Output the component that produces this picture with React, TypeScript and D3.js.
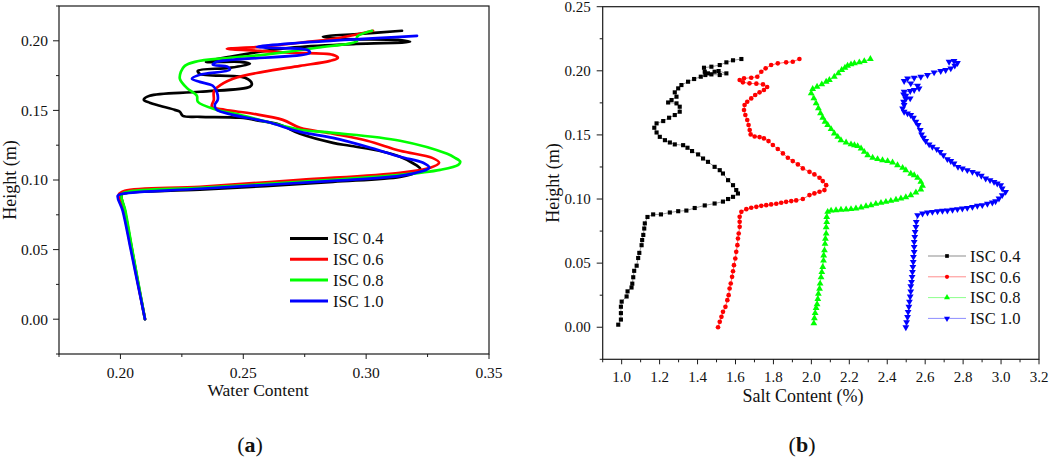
import React from 'react'
import * as d3 from 'd3'

type Pt = [number, number]

const SERIES_NAMES = ['ISC 0.4', 'ISC 0.6', 'ISC 0.8', 'ISC 1.0']
const SERIES_COLORS = ['#000000', '#ff0000', '#00ff00', '#0000ff']

// (a) water content (x) vs height (y)
const WATER_04: Pt[] = [
  [0.210, 0.000], [0.2073, 0.025], [0.2047, 0.050], [0.2018, 0.078], [0.2005, 0.0894], [0.2026, 0.0908], [0.2323, 0.0930], [0.2865, 0.0987],
  [0.3138, 0.1023], [0.3199, 0.1052], [0.3220, 0.1080], [0.3187, 0.1124], [0.3138, 0.1167],
  [0.3069, 0.1203], [0.2934, 0.1246], [0.2865, 0.1267], [0.2731, 0.1332], [0.2649, 0.1397],
  [0.2568, 0.1425], [0.2486, 0.1447], [0.2323, 0.1454], [0.2254, 0.1461], [0.2242, 0.1490],
  [0.2221, 0.1504], [0.2160, 0.1533], [0.2119, 0.1555], [0.2095, 0.1576], [0.2119, 0.1605],
  [0.2323, 0.1634], [0.2527, 0.1670], [0.2535, 0.1691], [0.2507, 0.1734], [0.2323, 0.1763],
  [0.2315, 0.1784], [0.2445, 0.1806], [0.2527, 0.1835], [0.2486, 0.1849], [0.2348, 0.1849],
  [0.2445, 0.1885], [0.2690, 0.1950], [0.2959, 0.1978], [0.3179, 0.1993], [0.3130, 0.2007],
  [0.2894, 0.2014], [0.2824, 0.2029], [0.2975, 0.2050], [0.3146, 0.2072],
]
const WATER_06: Pt[] = [
  [0.210, 0.000], [0.2072, 0.025], [0.2044, 0.050], [0.2012, 0.078], [0.1993, 0.0894], [0.2018, 0.0922], [0.2323, 0.0951], [0.2731, 0.1001],
  [0.3138, 0.1052], [0.3261, 0.1088], [0.3297, 0.1124], [0.3269, 0.1159], [0.3138, 0.1210],
  [0.3004, 0.1282], [0.2865, 0.1332], [0.2731, 0.1375], [0.2661, 0.1432], [0.2539, 0.1476],
  [0.2425, 0.1504], [0.2372, 0.1526], [0.2380, 0.1576], [0.2380, 0.1634], [0.2392, 0.1662],
  [0.2458, 0.1727], [0.2580, 0.1777], [0.2731, 0.1820], [0.2853, 0.1856], [0.2885, 0.1878],
  [0.2865, 0.1899], [0.2690, 0.1914], [0.2568, 0.1928], [0.2433, 0.1943], [0.2568, 0.1957],
  [0.2731, 0.1986], [0.2894, 0.2022], [0.3028, 0.2072],
]
const WATER_08: Pt[] = [
  [0.210, 0.000], [0.2074, 0.025], [0.2048, 0.050], [0.2020, 0.078], [0.2005, 0.0894], [0.2030, 0.0915], [0.2323, 0.0944], [0.2731, 0.0987],
  [0.3138, 0.1037], [0.3301, 0.1073], [0.3375, 0.1109], [0.3383, 0.1131], [0.3362, 0.1159],
  [0.3330, 0.1188], [0.3138, 0.1282], [0.2865, 0.1339], [0.2731, 0.1361], [0.2596, 0.1418],
  [0.2486, 0.1468], [0.2392, 0.1504], [0.2315, 0.1562], [0.2311, 0.1605], [0.2270, 0.1662],
  [0.2242, 0.1727], [0.2246, 0.1777], [0.2262, 0.1820], [0.2303, 0.1849], [0.2445, 0.1878],
  [0.2580, 0.1899], [0.2800, 0.1950], [0.2963, 0.2000], [0.2963, 0.2029], [0.3024, 0.2072],
]
const WATER_10: Pt[] = [
  [0.210, 0.000], [0.2071, 0.025], [0.2042, 0.050], [0.2009, 0.078], [0.1989, 0.0887], [0.2009, 0.0901], [0.2323, 0.0937], [0.2865, 0.0994],
  [0.3138, 0.1030], [0.3220, 0.1059], [0.3257, 0.1088], [0.3232, 0.1124], [0.3138, 0.1167],
  [0.3004, 0.1239], [0.2865, 0.1303], [0.2731, 0.1346], [0.2596, 0.1418], [0.2458, 0.1468],
  [0.2392, 0.1504], [0.2384, 0.1540], [0.2396, 0.1576], [0.2392, 0.1634], [0.2376, 0.1677],
  [0.2323, 0.1705], [0.2291, 0.1727], [0.2323, 0.1756], [0.2445, 0.1792], [0.2437, 0.1813],
  [0.2376, 0.1828], [0.2392, 0.1849], [0.2458, 0.1864], [0.2771, 0.1914], [0.2759, 0.1935],
  [0.2596, 0.1950], [0.2555, 0.1957], [0.2731, 0.1986], [0.3207, 0.2036],
]

// (b) salt content (%) (x) vs height (y)
const SALT_04: Pt[] = [
  [0.982, 0.002], [0.996, 0.006], [0.996, 0.011], [0.996, 0.016], [1.000, 0.020], [1.026, 0.024],
  [1.031, 0.028], [1.052, 0.031], [1.056, 0.034], [1.061, 0.039], [1.066, 0.044], [1.079, 0.048],
  [1.087, 0.054], [1.093, 0.058], [1.105, 0.064], [1.108, 0.068], [1.114, 0.072], [1.119, 0.077],
  [1.122, 0.081], [1.136, 0.086], [1.166, 0.088], [1.207, 0.088], [1.254, 0.0895], [1.298, 0.0905],
  [1.341, 0.091], [1.385, 0.093], [1.438, 0.095], [1.490, 0.0965], [1.534, 0.098], [1.561, 0.100],
  [1.587, 0.1017], [1.613, 0.1043], [1.604, 0.107], [1.587, 0.1108], [1.561, 0.1147], [1.534, 0.1199],
  [1.517, 0.1225], [1.490, 0.1251], [1.455, 0.129], [1.429, 0.1316], [1.403, 0.1348], [1.371, 0.1374],
  [1.347, 0.140], [1.324, 0.142], [1.280, 0.1426], [1.254, 0.1441], [1.228, 0.1459], [1.201, 0.1485],
  [1.184, 0.1519], [1.172, 0.1556], [1.184, 0.159], [1.219, 0.1608], [1.250, 0.1634], [1.280, 0.1655],
  [1.306, 0.1681], [1.306, 0.172], [1.289, 0.1746], [1.245, 0.1753], [1.263, 0.1772], [1.289, 0.1798],
  [1.280, 0.1832], [1.298, 0.1863], [1.315, 0.1889], [1.350, 0.1915], [1.382, 0.1936], [1.417, 0.1954],
  [1.441, 0.1967], [1.455, 0.198], [1.490, 0.1993], [1.511, 0.1998], [1.552, 0.198], [1.517, 0.1967],
  [1.473, 0.1972], [1.438, 0.1993], [1.434, 0.2024], [1.473, 0.2032], [1.517, 0.2045], [1.552, 0.2066],
  [1.587, 0.2082], [1.631, 0.2092],
]
const SALT_06: Pt[] = [
  [1.508, 0.000], [1.517, 0.0042], [1.526, 0.0081], [1.534, 0.012], [1.547, 0.0159], [1.557, 0.0211],
  [1.564, 0.025], [1.569, 0.0302], [1.575, 0.0341], [1.582, 0.0393], [1.587, 0.0437], [1.592, 0.0484],
  [1.599, 0.0536], [1.604, 0.0588], [1.610, 0.064], [1.613, 0.0692], [1.617, 0.0731], [1.622, 0.0783],
  [1.622, 0.0822], [1.622, 0.0861], [1.631, 0.090], [1.657, 0.0921], [1.683, 0.0932], [1.710, 0.0939],
  [1.736, 0.0947], [1.762, 0.0952], [1.788, 0.0958], [1.815, 0.0963], [1.841, 0.0971], [1.867, 0.0978],
  [1.894, 0.0984], [1.920, 0.0989], [1.955, 0.100], [1.990, 0.1031], [2.016, 0.1044], [2.043, 0.1057],
  [2.069, 0.107], [2.078, 0.1108], [2.060, 0.114], [2.043, 0.1166], [2.016, 0.1192], [1.990, 0.1212],
  [1.955, 0.1239], [1.929, 0.127], [1.902, 0.1296], [1.876, 0.1322], [1.850, 0.1356], [1.823, 0.139],
  [1.797, 0.1421], [1.774, 0.1452], [1.750, 0.1473], [1.727, 0.1483], [1.701, 0.1488], [1.680, 0.1504],
  [1.675, 0.1538], [1.669, 0.1577], [1.662, 0.1616], [1.652, 0.1655], [1.645, 0.1694], [1.648, 0.1733],
  [1.662, 0.1759], [1.683, 0.1785], [1.704, 0.1811], [1.727, 0.1832], [1.750, 0.185], [1.767, 0.1874],
  [1.745, 0.1894], [1.710, 0.190], [1.674, 0.1902], [1.639, 0.191], [1.622, 0.1928], [1.645, 0.1941],
  [1.683, 0.1946], [1.715, 0.1954], [1.736, 0.1993], [1.759, 0.2019], [1.788, 0.2045], [1.823, 0.2058],
  [1.867, 0.2066], [1.902, 0.2071], [1.937, 0.2092],
]
const SALT_08: Pt[] = [
  [2.013, 0.003], [2.016, 0.007], [2.020, 0.011], [2.025, 0.015], [2.030, 0.018], [2.034, 0.022],
  [2.037, 0.026], [2.043, 0.030], [2.046, 0.034], [2.051, 0.039], [2.055, 0.043], [2.060, 0.047],
  [2.064, 0.052], [2.065, 0.056], [2.069, 0.060], [2.072, 0.065], [2.074, 0.069], [2.078, 0.073],
  [2.078, 0.078], [2.081, 0.082], [2.081, 0.086], [2.086, 0.090], [2.104, 0.091], [2.130, 0.0913],
  [2.156, 0.0916], [2.183, 0.0918], [2.209, 0.0921], [2.235, 0.0926], [2.262, 0.0934], [2.288, 0.0944],
  [2.314, 0.0952], [2.340, 0.0962], [2.367, 0.097], [2.393, 0.0978], [2.419, 0.0986], [2.446, 0.0994],
  [2.472, 0.1004], [2.498, 0.1014], [2.524, 0.103], [2.551, 0.1051], [2.577, 0.1074], [2.586, 0.1103],
  [2.577, 0.1134], [2.560, 0.1165], [2.542, 0.1186], [2.524, 0.1197], [2.498, 0.1225], [2.481, 0.1243],
  [2.454, 0.1264], [2.428, 0.1285], [2.402, 0.1296], [2.375, 0.1303], [2.349, 0.1311], [2.323, 0.1322],
  [2.297, 0.1342], [2.279, 0.1368], [2.262, 0.1394], [2.244, 0.1413], [2.227, 0.142], [2.209, 0.1426],
  [2.183, 0.1441], [2.156, 0.1459], [2.139, 0.1485], [2.121, 0.1511], [2.104, 0.1545], [2.086, 0.1577],
  [2.072, 0.1603], [2.060, 0.1634], [2.048, 0.1668], [2.037, 0.1707], [2.025, 0.1746], [2.013, 0.1785],
  [1.999, 0.1824], [2.007, 0.1858], [2.030, 0.1876], [2.055, 0.1894], [2.078, 0.1915], [2.095, 0.1928],
  [2.121, 0.1954], [2.142, 0.198], [2.160, 0.2006], [2.177, 0.2024], [2.191, 0.204], [2.209, 0.205],
  [2.227, 0.2058], [2.253, 0.2066], [2.279, 0.2076], [2.311, 0.2092],
]
const SALT_10: Pt[] = [
  [2.498, 0.000], [2.502, 0.004], [2.507, 0.008], [2.510, 0.012], [2.514, 0.016], [2.517, 0.020],
  [2.521, 0.024], [2.524, 0.028], [2.524, 0.032], [2.528, 0.0354], [2.531, 0.0393], [2.533, 0.0432],
  [2.535, 0.0471], [2.537, 0.051], [2.538, 0.0549], [2.542, 0.0588], [2.542, 0.0627], [2.542, 0.0666],
  [2.545, 0.0705], [2.547, 0.0744], [2.551, 0.0783], [2.553, 0.0822], [2.560, 0.0874], [2.586, 0.0887],
  [2.612, 0.0895], [2.638, 0.090], [2.665, 0.0905], [2.691, 0.0908], [2.717, 0.091], [2.744, 0.0916],
  [2.770, 0.0921], [2.796, 0.0926], [2.822, 0.0931], [2.849, 0.0939], [2.875, 0.0947], [2.901, 0.0952],
  [2.928, 0.0963], [2.954, 0.0973], [2.971, 0.0983], [2.989, 0.1004], [3.006, 0.103], [3.024, 0.1056],
  [3.006, 0.1082], [2.998, 0.1108], [2.980, 0.1121], [2.963, 0.1134], [2.942, 0.1147], [2.919, 0.116],
  [2.896, 0.1181], [2.875, 0.1199], [2.849, 0.1212], [2.822, 0.1225], [2.796, 0.1238], [2.773, 0.1251],
  [2.752, 0.1277], [2.735, 0.1296], [2.717, 0.1311], [2.696, 0.1342], [2.679, 0.1368], [2.661, 0.1389],
  [2.638, 0.1408], [2.621, 0.1426], [2.603, 0.1452], [2.591, 0.1478], [2.581, 0.1504], [2.574, 0.1538],
  [2.563, 0.1577], [2.551, 0.1603], [2.538, 0.1634], [2.524, 0.1655], [2.507, 0.1668], [2.489, 0.1681],
  [2.481, 0.1707], [2.489, 0.1733], [2.486, 0.1759], [2.498, 0.178], [2.521, 0.1785], [2.498, 0.1806],
  [2.486, 0.1816], [2.489, 0.1837], [2.521, 0.1842], [2.542, 0.185], [2.568, 0.1863], [2.560, 0.1884],
  [2.524, 0.1902], [2.489, 0.192], [2.507, 0.1941], [2.542, 0.1946], [2.577, 0.1954], [2.612, 0.1967],
  [2.647, 0.1988], [2.682, 0.1998], [2.708, 0.2006], [2.735, 0.2019], [2.756, 0.204], [2.770, 0.2061],
  [2.752, 0.2076], [2.726, 0.2071],
]

// tick values
const WATER_TICKS = [0.2, 0.25, 0.3, 0.35]
const WATER_MINOR = [0.175, 0.225, 0.275, 0.325]
const HEIGHT_TICKS_A = [0, 0.05, 0.1, 0.15, 0.2]
const HEIGHT_MINOR_A = [-0.025, 0.025, 0.075, 0.125, 0.175, 0.225]
const SALT_TICKS = [1.0, 1.2, 1.4, 1.6, 1.8, 2.0, 2.2, 2.4, 2.6, 2.8, 3.0, 3.2]
const SALT_MINOR = [0.9, 1.1, 1.3, 1.5, 1.7, 1.9, 2.1, 2.3, 2.5, 2.7, 2.9, 3.1]
const HEIGHT_TICKS_B = [0, 0.05, 0.1, 0.15, 0.2, 0.25]
const HEIGHT_MINOR_B = [-0.025, 0.025, 0.075, 0.125, 0.175, 0.225]

const FONT = '"Liberation Serif", "Times New Roman", serif'
const AXIS_COLOR = '#1a1a1a'

interface AxesProps {
  x: d3.ScaleLinear<number, number>
  y: d3.ScaleLinear<number, number>
  xTicks: number[]
  xMinor: number[]
  yTicks: number[]
  yMinor: number[]
  xFmt: (n: number) => string
  yFmt: (n: number) => string
  fontSize: number
  xLabelDy: number
  yLabelDx: number
}

function Axes({ x, y, xTicks, xMinor, yTicks, yMinor, xFmt, yFmt, fontSize, xLabelDy, yLabelDx }: AxesProps) {
  const [x0, x1] = x.range()
  const [y0, y1] = y.range() // y0 bottom, y1 top
  return (
    <g fontFamily={FONT} fontSize={fontSize} fill="#111">
      <rect x={x0} y={y1} width={x1 - x0} height={y0 - y1} fill="none" stroke={AXIS_COLOR} strokeWidth={1.2} />
      {xTicks.map(t => (
        <g key={'xt' + t}>
          <line x1={x(t)} x2={x(t)} y1={y0} y2={y0 + 5} stroke={AXIS_COLOR} strokeWidth={1} />
          <text x={x(t)} y={y0 + xLabelDy} textAnchor="middle">{xFmt(t)}</text>
        </g>
      ))}
      {xMinor.map(t => (
        <line key={'xm' + t} x1={x(t)} x2={x(t)} y1={y0} y2={y0 + 3} stroke={AXIS_COLOR} strokeWidth={1} />
      ))}
      {yTicks.map(t => (
        <g key={'yt' + t}>
          <line x1={x0 - 6} x2={x0} y1={y(t)} y2={y(t)} stroke={AXIS_COLOR} strokeWidth={1} />
          <text x={x0 - yLabelDx} y={y(t)} dy="0.35em" textAnchor="end">{yFmt(t)}</text>
        </g>
      ))}
      {yMinor.map(t => (
        <line key={'ym' + t} x1={x0 - 3} x2={x0} y1={y(t)} y2={y(t)} stroke={AXIS_COLOR} strokeWidth={1} />
      ))}
    </g>
  )
}

function WaterPanel() {
  const x = d3.scaleLinear().domain([0.175, 0.35]).range([59, 489])
  const y = d3.scaleLinear().domain([-0.025, 0.225]).range([354, 6])
  const line = d3.line<Pt>()
    .x(d => x(d[0]))
    .y(d => y(d[1]))
    .curve(d3.curveCatmullRom.alpha(0.5))
  const series = [WATER_04, WATER_06, WATER_08, WATER_10]
  const fmt = d3.format('.2f')
  return (
    <g>
      <Axes x={x} y={y} xTicks={WATER_TICKS} xMinor={WATER_MINOR} yTicks={HEIGHT_TICKS_A} yMinor={HEIGHT_MINOR_A}
        xFmt={fmt} yFmt={fmt} fontSize={15.5} xLabelDy={24} yLabelDx={11} />
      {series.map((s, i) => (
        <path key={i} d={line(s) || ''} fill="none" stroke={SERIES_COLORS[i]} strokeWidth={2.7}
          strokeLinejoin="round" strokeLinecap="round" />
      ))}
      {/* legend */}
      {SERIES_NAMES.map((name, i) => (
        <g key={name} transform={`translate(290, ${238.5 + i * 20.8})`}>
          <line x1={0} x2={38} y1={0} y2={0} stroke={SERIES_COLORS[i]} strokeWidth={3} />
          <text x={43} y={0} dy="0.35em" fontFamily={FONT} fontSize={16.5} fill="#111">{name}</text>
        </g>
      ))}
      <text x={258} y={396} textAnchor="middle" fontFamily={FONT} fontSize={17.5} fill="#111">Water Content</text>
      <text transform="translate(16, 180) rotate(-90)" textAnchor="middle" fontFamily={FONT} fontSize={18} fill="#111">Height (m)</text>
      <text x={250} y={452} textAnchor="middle" fontFamily={FONT} fontSize={22} fill="#111">
        (<tspan fontWeight="bold">a</tspan>)
      </text>
    </g>
  )
}

const downTriangle: d3.SymbolType = {
  draw(context, size) {
    const s = Math.sqrt(size / (Math.sqrt(3) / 4))
    const h = (s * Math.sqrt(3)) / 2
    context.moveTo(0, (2 * h) / 3)
    context.lineTo(-s / 2, -h / 3)
    context.lineTo(s / 2, -h / 3)
    context.closePath()
  },
}
const SYMBOLS: d3.SymbolType[] = [d3.symbolSquare, d3.symbolCircle, d3.symbolTriangle, downTriangle]
const SYMBOL_SIZES = [17, 17, 20, 20]

function SaltPanel() {
  const x = d3.scaleLinear().domain([0.9, 3.2]).range([602.7, 1039])
  const y = d3.scaleLinear().domain([-0.025, 0.25]).range([359.3, 6.7])
  const line = d3.line<Pt>().x(d => x(d[0])).y(d => y(d[1]))
  const series = [SALT_04, SALT_06, SALT_08, SALT_10]
  return (
    <g>
      <Axes x={x} y={y} xTicks={SALT_TICKS} xMinor={SALT_MINOR} yTicks={HEIGHT_TICKS_B} yMinor={HEIGHT_MINOR_B}
        xFmt={d3.format('.1f')} yFmt={d3.format('.2f')} fontSize={15} xLabelDy={22.5} yLabelDx={12} />
      {series.map((s, i) => {
        const sym = d3.symbol().type(SYMBOLS[i]).size(SYMBOL_SIZES[i])()
        return (
          <g key={i}>
            <path d={line(s) || ''} fill="none" stroke={i === 0 ? '#555' : SERIES_COLORS[i]} strokeWidth={0.8} strokeOpacity={0.75} />
            {s.map((d, j) => (
              <path key={j} d={sym || ''} transform={`translate(${x(d[0])},${y(d[1])})`} fill={SERIES_COLORS[i]} />
            ))}
          </g>
        )
      })}
      {SERIES_NAMES.map((name, i) => {
        const sym = d3.symbol().type(SYMBOLS[i]).size(SYMBOL_SIZES[i] * 0.8)()
        return (
          <g key={name} transform={`translate(928, ${256 + i * 20.8})`}>
            <line x1={0} x2={38} y1={0} y2={0} stroke={SERIES_COLORS[i]} strokeWidth={1} strokeOpacity={0.45} />
            <path d={sym || ''} transform="translate(19,0)" fill={SERIES_COLORS[i]} />
            <text x={42} y={0} dy="0.35em" fontFamily={FONT} fontSize={16.5} fill="#111">{name}</text>
          </g>
        )
      })}
      <text x={803} y={402} textAnchor="middle" fontFamily={FONT} fontSize={18} fill="#111">Salt Content (%)</text>
      <text transform="translate(559, 183) rotate(-90)" textAnchor="middle" fontFamily={FONT} fontSize={18} fill="#111">Height (m)</text>
      <text x={802} y={452} textAnchor="middle" fontFamily={FONT} fontSize={22} fill="#111">
        (<tspan fontWeight="bold">b</tspan>)
      </text>
    </g>
  )
}

export default function App() {
  return (
    <svg width={1052} height={458} style={{ position: 'absolute', left: 0, top: 0, background: '#fff' }}>
      <WaterPanel />
      <SaltPanel />
    </svg>
  )
}
